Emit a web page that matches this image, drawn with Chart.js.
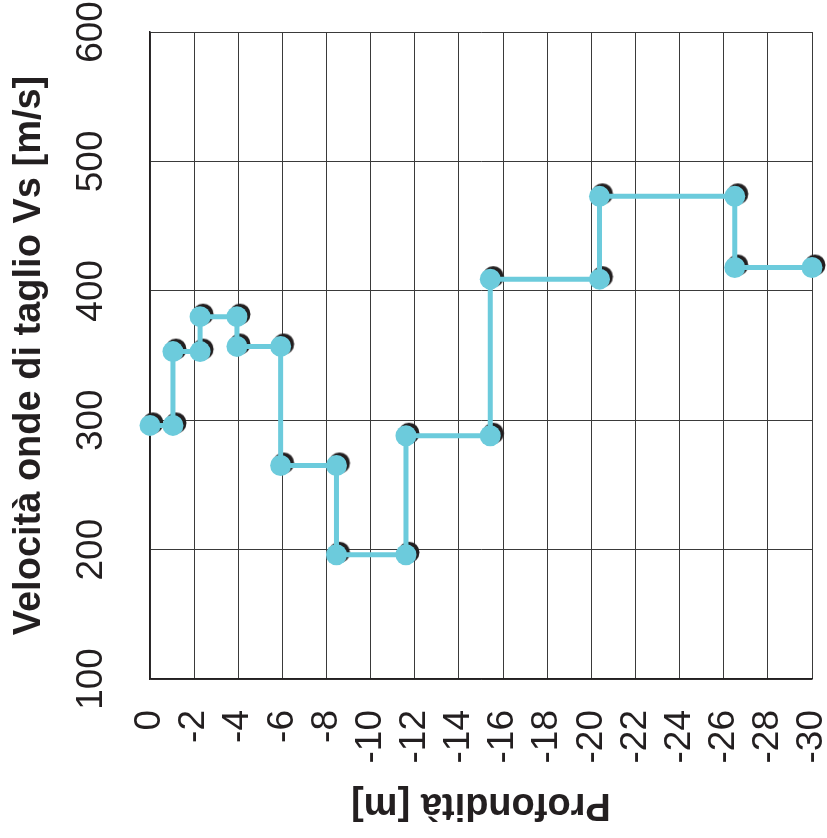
<!DOCTYPE html>
<html><head><meta charset="utf-8">
<script src="https://cdn.jsdelivr.net/npm/chart.js@4.4.0/dist/chart.umd.min.js"></script>
<style>html,body{margin:0;padding:0;background:#fff;}</style>
</head><body>
<canvas id="c" width="827" height="838" style="display:block;width:827px;height:838px"></canvas>
<script>
// Depth (m) and shear-wave velocity Vs (m/s) at each vertex of the step profile
const depths   = [0, -1.04, -1.04, -2.27, -2.27, -3.94, -3.94, -5.92, -5.92, -8.45, -8.45, -11.6, -11.6, -15.42, -15.42, -20.37, -20.37, -26.5, -26.5, -30];
const vsValues = [296, 296, 353, 353, 380, 380, 357, 357, 265, 265, 196, 196, 288, 288, 409, 409, 473, 473, 418, 418];
const depthTicks = [0, -2, -4, -6, -8, -10, -12, -14, -16, -18, -20, -22, -24, -26, -28, -30];
const vsTicks = [100, 200, 300, 400, 500, 600];
const xTitle = 'Profondità [m]';
const yTitle = 'Velocità onde di taglio Vs [m/s]';

const FONT = "'Liberation Sans', Arial, Helvetica, sans-serif";
const INK = '#231f20';
const CYAN = '#6ccbdc';

const points = depths.map((d, i) => ({x: d, y: vsValues[i]}));

// black "shadow" disc drawn slightly up-right of each point
const shadow = document.createElement('canvas');
shadow.width = 36; shadow.height = 36;
(function(){
  const g = shadow.getContext('2d');
  g.fillStyle = INK;
  g.beginPath(); g.arc(18 + 3, 18 - 2.5, 10.5, 0, Math.PI * 2); g.fill();
})();

const xTitlePlugin = {
  id: 'xTitle',
  afterDraw(chart) {
    const {ctx, chartArea} = chart;
    ctx.save();
    ctx.translate((chartArea.left + chartArea.right) / 2, 794);
    ctx.rotate(Math.PI);
    ctx.font = "bold 38px " + FONT;
    ctx.fillStyle = INK;
    ctx.textAlign = 'center';
    ctx.textBaseline = 'alphabetic';
    ctx.fillText(xTitle, 0, 0);
    ctx.restore();
  }
};

new Chart(document.getElementById('c'), {
  type: 'line',
  data: {
    datasets: [
      {
        data: points, order: 1, clip: false,
        borderColor: CYAN, borderWidth: 5, tension: 0,
        pointRadius: 10.5, pointBackgroundColor: CYAN, pointBorderWidth: 0
      },
      {
        data: points, order: 2, clip: false, showLine: false,
        pointStyle: shadow, pointRadius: 10.5
      }
    ]
  },
  options: {
    responsive: false, animation: false, devicePixelRatio: 1, events: [],
    layout: {padding: {top: 32, right: 15, bottom: 0, left: 0}},
    plugins: {legend: {display: false}, tooltip: {enabled: false}},
    scales: {
      x: {
        type: 'linear', min: -30, max: 0, reverse: true, position: 'bottom',
        afterBuildTicks: s => { s.ticks = depthTicks.map(v => ({value: v})); },
        afterFit: s => { s.height = 159; s.paddingLeft = 0; s.paddingRight = 0; },
        ticks: {
          autoSkip: false, minRotation: 90, maxRotation: 90, padding: 31,
          color: INK, font: {family: FONT, size: 37},
          callback: v => String(v)
        },
        grid: {color: '#3a3a3a', lineWidth: 1, drawTicks: false},
        border: {display: true, color: INK, width: 1.5}
      },
      y: {
        type: 'linear', min: 100, max: 600,
        afterBuildTicks: s => { s.ticks = vsTicks.map(v => ({value: v})); },
        afterFit: s => { s.width = 150; s.paddingTop = 0; s.paddingBottom = 0; },
        ticks: {
          autoSkip: false, minRotation: 90, maxRotation: 90, crossAlign: 'center', padding: 27,
          color: INK, font: {family: FONT, size: 37},
          callback: v => String(v)
        },
        grid: {color: '#3a3a3a', lineWidth: 1, drawTicks: false},
        border: {display: true, color: INK, width: 1.5},
        title: {
          display: true, text: yTitle, color: INK,
          font: {family: FONT, size: 38, weight: 'bold'},
          padding: {top: 7, bottom: 0}
        }
      }
    }
  },
  plugins: [xTitlePlugin]
});
</script>
</body></html>
